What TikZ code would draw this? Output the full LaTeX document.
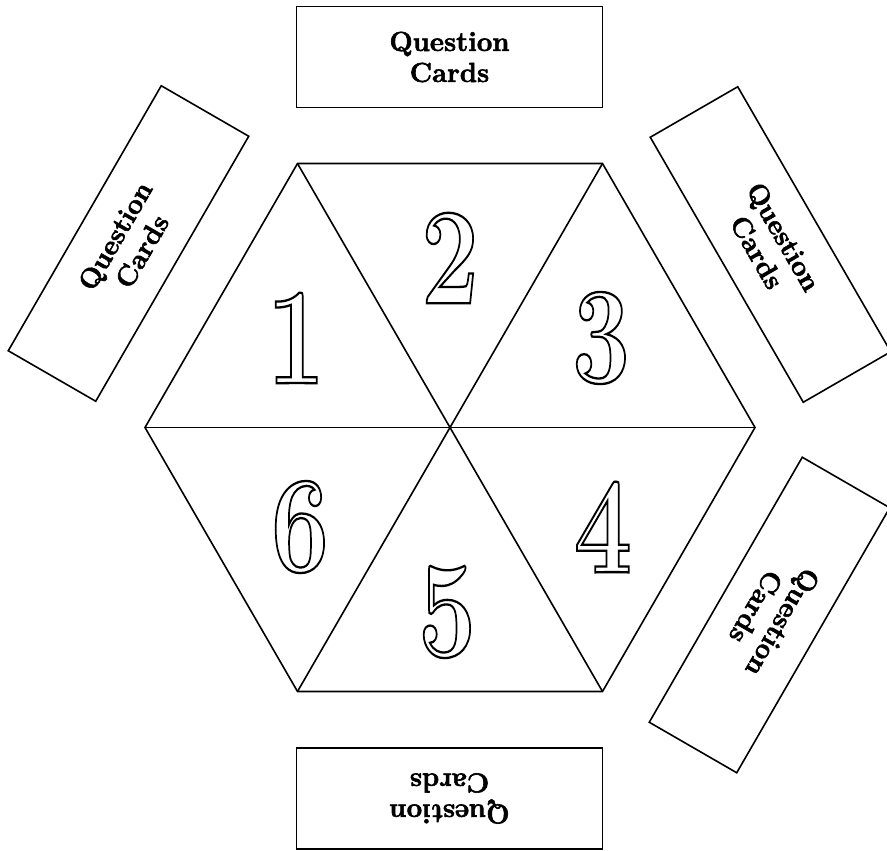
\documentclass[tikz,border=0pt]{standalone}
\usepackage{fontspec}
\newcommand\outlinetext[1]{\special{pdf:literal direct 1 Tr 2.3 w}#1\special{pdf:literal direct 0 Tr 1 w}}
\newcommand\heavytext[1]{\special{pdf:literal direct 2 Tr 0.6 w}#1\special{pdf:literal direct 0 Tr 1 w}}
\newcommand\cardlabel{\heavytext{Question}\\\heavytext{Cards}}
\begin{document}
\begin{tikzpicture}[x=1pt,y=-1pt,
  line width=1.6pt,
  card/.style={draw, line width=1.6pt, minimum width=306pt, minimum height=101pt, align=center,
    font=\fontsize{27.5}{31}\selectfont\bfseries, inner sep=0pt},
  digit/.style={inner sep=0pt, font=\fontsize{138}{138}\selectfont\bfseries, xscale=0.75}]
\useasboundingbox (0,0) rectangle (887,851);
% hexagon
\coordinate (A) at (297.5,163.5);
\coordinate (B) at (602.5,163.5);
\coordinate (C) at (755,427.5);
\coordinate (D) at (602.5,691.5);
\coordinate (E) at (297.5,691.5);
\coordinate (F) at (145,427.5);
\draw[line join=miter] (A) -- (B) -- (C) -- (D) -- (E) -- (F) -- cycle;
\draw (A) -- (D);
\draw (B) -- (E);
\draw (C) -- (F);
% digits
\node[digit] (n1) at (296,338) {\outlinetext{1}};
\node[digit] (n2) at (450,258) {\outlinetext{2}};
\node[digit] (n3) at (601,338) {\outlinetext{3}};
\node[digit] (n4) at (603,527) {\outlinetext{4}};
\node[digit] (n5) at (447,612) {\outlinetext{5}};
\node[digit] (n6) at (300,527) {\outlinetext{6}};
% cards
\node[card] (ct) at (449.5,57) {\cardlabel};
\node[card, rotate=180] (cb) at (449.5,798.5) {\cardlabel};
\node[card, rotate=60] (cl) at (128.5,243.5) {\cardlabel};
\node[card, rotate=-60] (cur) at (770.5,244.5) {\cardlabel};
\node[card, rotate=240] (clr) at (769.5,615) {\cardlabel};
\end{tikzpicture}
\end{document}
